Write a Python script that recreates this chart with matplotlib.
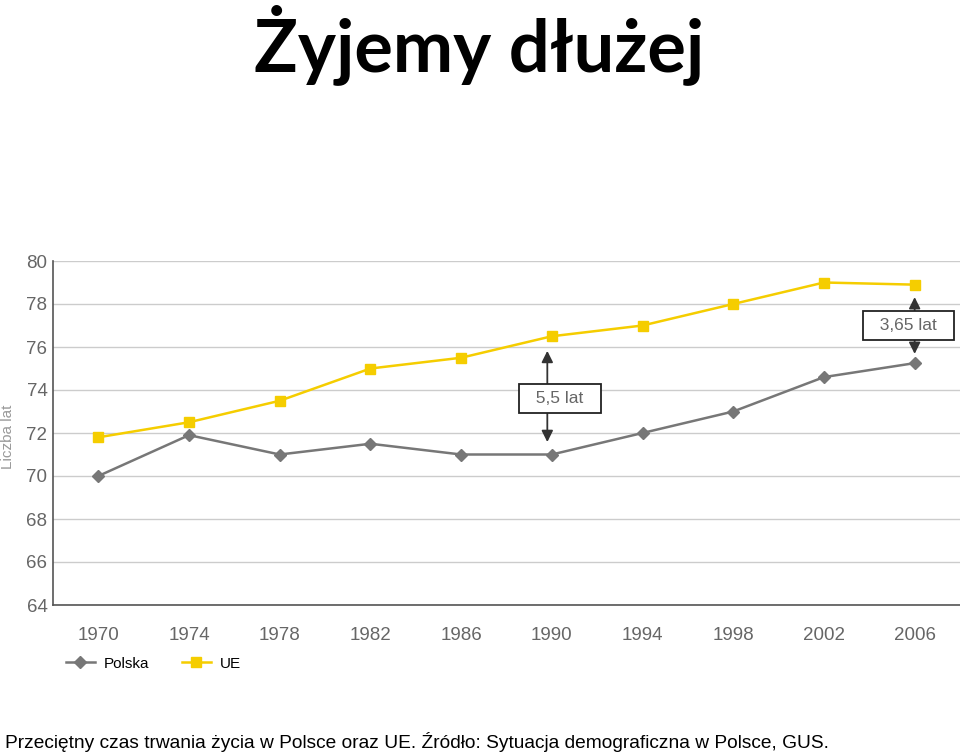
import matplotlib.pyplot as plt

years = [1970, 1974, 1978, 1982, 1986, 1990, 1994, 1998, 2002, 2006]
polska = [70.0, 71.9, 71.0, 71.5, 71.0, 71.0, 72.0, 73.0, 74.6, 75.25]
ue = [71.8, 72.5, 73.5, 75.0, 75.5, 76.5, 77.0, 78.0, 79.0, 78.9]
yticks = [64, 66, 68, 70, 72, 74, 76, 78, 80]

fig = plt.figure(figsize=(9.6, 7.54), dpi=100)
ax = fig.add_axes([53/960, 1 - 605/754, (960 - 53)/960, (605 - 261)/754])

ax.set_xlim(1968, 2008)
ax.set_ylim(64, 80)
ax.set_yticks(yticks)
ax.set_xticks(years)
ax.grid(axis='y', color='#cccccc', lw=1)
ax.set_axisbelow(True)
for s in ['top', 'right']:
	ax.spines[s].set_visible(False)
for s in ['left', 'bottom']:
	ax.spines[s].set_color('#555555')
	ax.spines[s].set_linewidth(1.2)
ax.tick_params(length=0, labelcolor='#666666', labelsize=13.5)
ax.tick_params(axis='x', pad=16)
ax.tick_params(axis='y', pad=4)
for lab in ax.get_xticklabels() + ax.get_yticklabels():
	lab.set_family('Liberation Sans')

ax.plot(years, polska, color='#777777', lw=1.8, marker='D', ms=6.5, label='Polska', zorder=3)
ax.plot(years, ue, color='#f5cd00', lw=1.8, marker='s', ms=7.5, label='UE', zorder=3)

fig.text(8/960, 1 - 437/754, 'Liczba lat', rotation=90, ha='center', va='center',
	color='#999999', fontsize=11, family='Liberation Sans')

# difference annotations
def diff_note(x, lo_tip, hi_tip, yc, dx, label):
	for tip in (lo_tip, hi_tip):
		ax.annotate('', xy=(x, tip), xytext=(x, yc),
			arrowprops=dict(arrowstyle='-|>', color='#333333', lw=1.3, mutation_scale=17),
			zorder=4)
	ax.text(x + dx, yc, '  ' + label + '  ', ha='center', va='center', fontsize=12.5, color='#666666',
		family='Liberation Sans', zorder=5,
		bbox=dict(boxstyle='square,pad=0.42', fc='white', ec='#222222', lw=1.3))

diff_note(1989.8, 71.45, 75.95, 73.6, 0.55, '5,5 lat')
diff_note(2006, 75.55, 78.45, 77.0, -0.27, '3,65 lat')

ax.legend(loc='upper left', bbox_to_anchor=(52/960, 1 - 643/754), bbox_transform=fig.transFigure,
	ncol=2, frameon=False, prop={'family': 'Liberation Sans', 'size': 11},
	handlelength=1.9, columnspacing=2.1, handletextpad=0.6)

fig.text(479/960, 1 - 45/754, 'Żyjemy dłużej', ha='center', va='center',
	fontsize=52, fontweight='bold', family='Lato')
fig.text(5/960, 1 - 742/754, 'Przeciętny czas trwania życia w Polsce oraz UE. Źródło: Sytuacja demograficzna w Polsce, GUS.',
	ha='left', va='center', fontsize=13.75, family='Liberation Sans')

fig.savefig('out.png', dpi=100)
